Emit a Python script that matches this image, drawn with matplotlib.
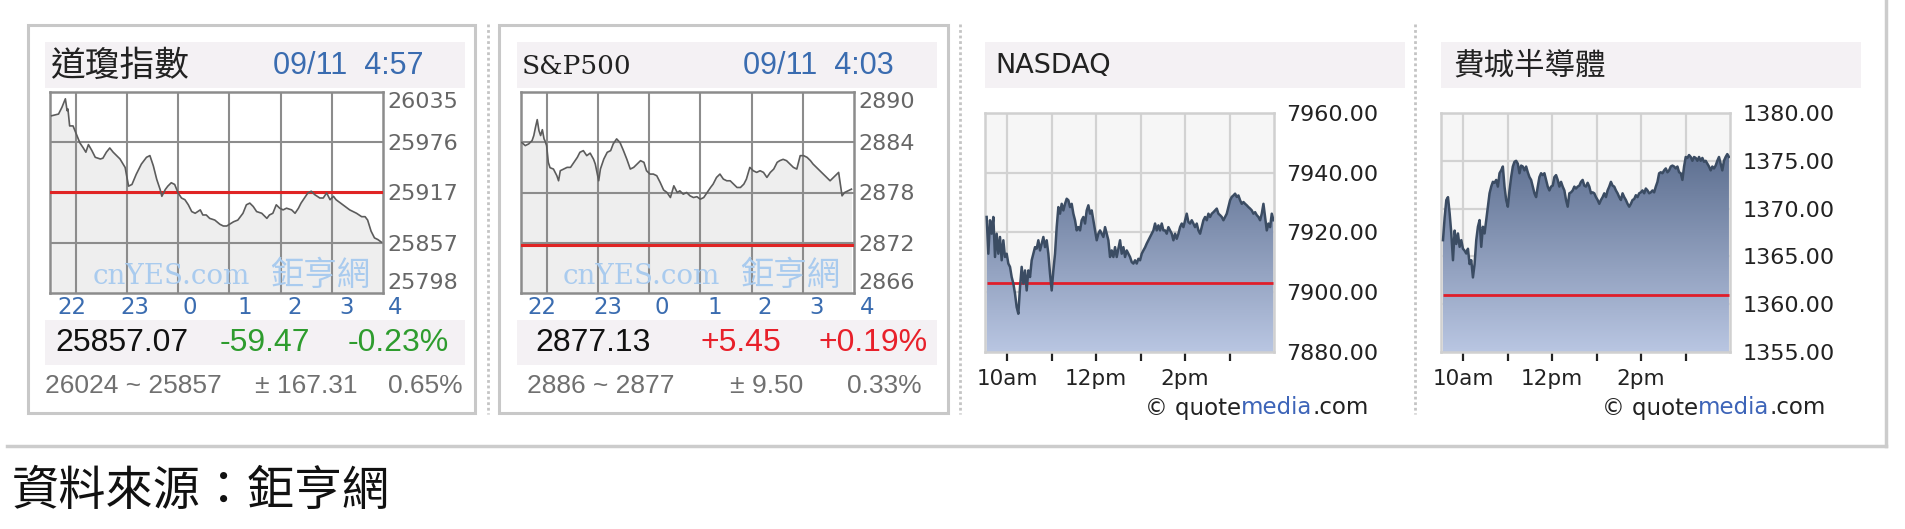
import matplotlib
matplotlib.use("Agg")
import matplotlib.pyplot as plt
import numpy as np
from matplotlib.patches import Rectangle
from matplotlib.colors import LinearSegmentedColormap

W, H = 1905, 529
CJK = ['Noto Sans CJK TC', 'DejaVu Sans']

# ---------------- data ----------------
dow_minutes = [2,10,14,18,20,21,23,27,31,35,39,42,45,49,53,59,62,66,70,74,78,82,88,92,96,101,107,113,117,121,
               125,129,131,135,138,142,146,150,154,158,162,166,170,176,179,183,187,193,199,203,207,215,220,226,230,234,238,242,248,254,
               257,261,265,269,273,277,283,287,291,294,298,302,306,310,316,320,324,328,332,335,343,351,359,365,369,372,376,380,384,388]
dow_values = [26007,26009,26017,26027,26013,26015,25995,25995,25985,25975,25969,25964,25973,25966,25958,25956,25957,25964,25969,25964,
              25960,25956,25946,25924,25926,25938,25950,25958,25960,25948,25932,25920,25912,25920,25924,25928,25926,25916,25910,25908,
              25902,25894,25892,25896,25890,25890,25886,25884,25879,25877,25877,25882,25884,25892,25902,25904,25900,25894,25892,25886,
              25890,25892,25902,25898,25896,25898,25896,25892,25898,25904,25910,25916,25918,25914,25910,25910,25916,25908,25912,25908,
              25902,25896,25892,25888,25888,25884,25871,25863,25861,25858]
dow_prev_close = 25916.54
dow_ylim = (25798, 26035)
dow_yticks = [25798, 25857.25, 25916.5, 25975.75, 26035]
dow_yticklabels = ['25798', '25857', '25917', '25976', '26035']

spx_minutes = [1,5,9,13,15,17,19,21,23,25,27,28,30,32,34,38,42,44,46,50,54,58,62,66,69,73,77,81,85,87,
               89,91,93,97,101,105,108,112,116,120,124,128,132,136,140,144,147,151,155,159,163,167,171,175,179,183,186,190,194,198,
               202,206,210,214,218,222,225,229,233,237,241,245,249,253,257,261,264,268,272,276,280,284,288,292,296,300,303,307,311,315,
               319,323,327,331,335,339,342,346,350,354,358,362,366,370,372,376,379,383,387]
spx_values = [2883.96,2883.6,2883.8,2884.2,2884.8,2885.8,2886.7,2885.4,2884.8,2885.5,
              2884.4,2884.2,2883.6,2881.6,2880.96,2880.8,2880.0,2879.4,2880.6,2880.8,
              2881.0,2881.0,2881.6,2882.2,2882.8,2883.0,2882.4,2882.7,2881.96,2881.4,
              2880.4,2879.4,2880.8,2882.0,2882.8,2883.0,2883.8,2884.4,2883.96,2883.0,
              2881.96,2880.8,2881.0,2881.4,2881.8,2881.6,2880.6,2880.2,2880.2,2880.0,
              2879.2,2878.3,2878.0,2877.4,2878.8,2878.0,2878.2,2877.8,2878.0,2877.6,
              2877.4,2877.5,2877.2,2877.4,2878.0,2878.6,2879.0,2879.8,2880.2,2879.6,
              2879.4,2879.4,2879.0,2878.6,2878.6,2879.0,2879.6,2881.0,2880.6,2880.4,
              2880.6,2880.4,2879.8,2880.4,2880.8,2881.6,2881.8,2881.96,2881.8,2881.4,
              2881.0,2880.8,2882.4,2882.4,2882.2,2881.8,2881.4,2881.0,2880.6,2880.2,
              2879.8,2879.4,2879.8,2880.2,2880.4,2877.6,2878.0,2878.2,2878.4]
spx_prev_close = 2871.68
spx_ylim = (2866, 2890)
spx_yticks = [2866, 2872, 2878, 2884, 2890]
spx_yticklabels = ['2866', '2872', '2878', '2884', '2890']

ndq_values = [7925.2,7912.9,7924.1,7919.6,7925.2,7911.8,7919.6,7912.9,7918.5,7910.7,
              7917.4,7911.8,7912.9,7909.6,7908.5,7905.1,7902.9,7899.5,7895.0,7892.8,
              7901.7,7908.5,7902.9,7907.3,7900.6,7907.3,7905.1,7910.7,7912.9,7915.1,
              7914.6,7917.4,7914.0,7916.3,7918.5,7915.1,7917.4,7912.9,7906.2,7900.6,
              7907.3,7912.9,7921.8,7928.5,7926.3,7929.6,7927.4,7929.6,7931.3,7930.8,
              7928.5,7929.6,7926.3,7924.1,7920.7,7921.8,7920.7,7924.1,7925.2,7923.0,
              7927.4,7929.1,7926.3,7927.4,7924.1,7920.7,7917.4,7919.6,7920.7,7919.6,
              7918.5,7921.8,7919.6,7917.4,7911.8,7914.0,7911.8,7915.1,7911.8,7914.6,
              7917.4,7912.9,7915.1,7911.8,7914.0,7912.9,7911.8,7910.1,7909.6,7910.7,
              7909.6,7911.2,7910.7,7912.9,7914.0,7915.0,7916.3,7917.4,7918.5,7919.6,
              7920.7,7923.0,7920.7,7922.4,7920.7,7923.0,7920.7,7920.7,7919.6,7921.8,
              7920.7,7919.6,7917.4,7919.6,7917.9,7919.6,7921.8,7923.0,7921.8,7924.1,
              7926.3,7923.5,7923.0,7924.1,7923.0,7921.8,7923.0,7920.7,7919.6,7921.8,
              7924.1,7925.2,7924.1,7926.3,7925.2,7926.3,7926.8,7927.4,7928.0,7926.3,
              7925.8,7925.2,7924.1,7925.2,7926.3,7928.5,7930.8,7931.9,7932.4,7933.0,
              7931.9,7932.4,7930.8,7929.6,7930.2,7929.6,7929.1,7928.5,7928.0,7927.4,
              7926.3,7926.8,7925.8,7925.2,7924.1,7926.3,7929.6,7925.2,7920.7,7923.0,
              7921.8,7926.3,7924.1]
ndq_first_last_minute = (2.25, 389.25)
ndq_prev_close = 7903.0
ndq_ylim = (7880, 7960)
ndq_yticks = [7880, 7900, 7920, 7940, 7960]
ndq_yticklabels = ['7880.00', '7900.00', '7920.00', '7940.00', '7960.00']

sox_values = [1366.7,1369.1,1370.9,1371.2,1369.5,1367.4,1364.6,1367.7,1366.3,1367.4,
              1366.0,1366.7,1365.8,1365.6,1365.3,1365.8,1364.2,1364.6,1362.8,1364.2,
              1366.7,1368.1,1368.8,1366.0,1368.1,1367.4,1368.8,1370.2,1371.6,1372.3,
              1372.8,1372.7,1373.0,1372.3,1373.7,1374.0,1374.4,1372.3,1370.9,1370.2,
              1371.9,1373.3,1374.4,1374.9,1375.0,1374.7,1373.7,1374.5,1374.4,1374.0,
              1374.4,1373.8,1373.3,1373.0,1372.3,1371.6,1371.2,1372.3,1373.3,1373.7,
              1373.5,1373.7,1373.0,1372.3,1371.9,1372.3,1372.4,1373.3,1373.5,1373.0,
              1372.3,1372.8,1372.3,1371.9,1370.9,1370.2,1371.6,1371.7,1371.9,1372.3,
              1372.1,1372.3,1372.4,1372.8,1373.0,1372.4,1372.3,1372.7,1372.3,1371.6,
              1371.7,1371.6,1371.2,1370.9,1370.5,1370.9,1371.2,1371.6,1371.2,1371.9,
              1372.3,1372.8,1372.4,1372.3,1371.9,1371.6,1371.2,1370.9,1371.6,1371.2,
              1370.9,1370.5,1370.2,1370.5,1370.9,1371.0,1371.4,1371.2,1371.6,1371.7,
              1371.9,1371.6,1372.1,1371.9,1371.6,1371.7,1371.9,1371.7,1372.3,1372.8,
              1373.7,1373.8,1373.7,1374.0,1374.2,1373.8,1374.0,1374.4,1374.5,1374.4,
              1374.2,1374.4,1373.8,1373.7,1373.0,1374.4,1375.4,1375.3,1375.6,1375.4,
              1375.0,1375.4,1375.3,1375.0,1375.4,1375.0,1375.3,1374.9,1375.0,1374.7,
              1374.4,1374.0,1374.4,1374.2,1374.5,1375.0,1375.4,1374.7,1374.0,1375.0,
              1375.4,1375.7,1375.4]
sox_first_last_minute = (2.7, 388.6)
sox_prev_close = 1361.0
sox_ylim = (1355, 1380)
sox_yticks = [1355, 1360, 1365, 1370, 1375, 1380]
sox_yticklabels = ['1355.00', '1360.00', '1365.00', '1370.00', '1375.00', '1380.00']

hour_grid_minutes = [30, 90, 150, 210, 270, 330]
us_tick_labels = ['10am', '', '12pm', '', '2pm', '']
tw_hour_labels = ['22', '23', '0', '1', '2', '3', '4']

# ---------------- figure ----------------
fig = plt.figure(figsize=(W / 100, H / 100), dpi=100)
fig.patch.set_facecolor('white')


def fax(x0, y0, x1, y1):
    return fig.add_axes([x0 / W, 1 - y1 / H, (x1 - x0) / W, (y1 - y0) / H])


def cnyes_plot(box, minutes, values, prev, ylim, yticks, ylabels):
    ax = fax(*box)
    ax.set_facecolor('white')
    ax.fill_between(minutes, values, ylim[0], color='#eeeeee', lw=0, zorder=1)
    for m in hour_grid_minutes:
        ax.axvline(m, color='#8c8c8c', lw=1.5, zorder=2)
    for v in yticks[1:-1]:
        ax.axhline(v, color='#8c8c8c', lw=1.5, zorder=2)
    ax.axhline(prev, color='#e02424', lw=2.2, zorder=3)
    ax.plot(minutes, values, color='#5c5c5c', lw=1.2, zorder=4)
    ax.set_xlim(0, 390)
    ax.set_ylim(*ylim)
    ax.set_xticks([])
    ax.set_yticks(yticks)
    ax.set_yticklabels(ylabels)
    ax.yaxis.tick_right()
    ax.tick_params(axis='y', length=0, pad=3, labelsize=16, labelcolor='#666666')
    tl = ax.get_yticklabels()
    tl[0].set_va('bottom')
    tl[-1].set_va('top')
    for s in ax.spines.values():
        s.set_color('#8c8c8c')
        s.set_linewidth(1.8)
    return ax


def qm_plot(box, values, first_last, prev, ylim, yticks, ylabels):
    ax = fax(*box)
    ax.set_facecolor('#f6f6f6')
    t = np.linspace(first_last[0], first_last[1], len(values))
    poly = ax.fill_between(t, values, ylim[0], facecolor='none', edgecolor='none')
    cmap = LinearSegmentedColormap.from_list('g', ['#b9c6e2', '#4b5e80'])
    grad = np.linspace(0, 1, 256).reshape(-1, 1)
    im = ax.imshow(grad, extent=[0, 390, ylim[0], ylim[1]], origin='lower', aspect='auto',
                   cmap=cmap, zorder=1, interpolation='bilinear')
    im.set_clip_path(poly.get_paths()[0], transform=ax.transData)
    ax.hlines(prev, t[0], t[-1], color='#e01e2a', lw=2.0, zorder=3)
    ax.plot(t, values, color='#3b4c63', lw=1.8, zorder=4)
    ax.set_xlim(0, 390)
    ax.set_ylim(*ylim)
    ax.set_xticks(hour_grid_minutes)
    ax.set_xticklabels(us_tick_labels)
    ax.set_yticks(yticks)
    ax.set_yticklabels(ylabels)
    ax.yaxis.tick_right()
    ax.grid(True, color='#d2d2d2', lw=1.6)
    ax.set_axisbelow(True)
    ax.tick_params(axis='y', length=0, pad=9, labelsize=16, labelcolor='#222222')
    ax.tick_params(axis='x', direction='out', length=6.5, width=1.6, color='#222222',
                   pad=6, labelsize=15.5, labelcolor='#222222')
    for s in ax.spines.values():
        s.set_color('#d0d0d0')
        s.set_linewidth(1.8)
    return ax


dow_ax = cnyes_plot((50, 92, 383, 293), dow_minutes, dow_values, dow_prev_close,
                    dow_ylim, dow_yticks, dow_yticklabels)
spx_ax = cnyes_plot((521, 92, 854, 293), spx_minutes, spx_values, spx_prev_close,
                    spx_ylim, spx_yticks, spx_yticklabels)
ndq_ax = qm_plot((985, 113, 1274, 352), ndq_values, ndq_first_last_minute, ndq_prev_close,
                 ndq_ylim, ndq_yticks, ndq_yticklabels)
sox_ax = qm_plot((1441, 113, 1730, 352), sox_values, sox_first_last_minute, sox_prev_close,
                 sox_ylim, sox_yticks, sox_yticklabels)

# ---------------- overlay ----------------
bg = fig.add_axes([0, 0, 1, 1], zorder=10)
bg.set_xlim(0, W)
bg.set_ylim(H, 0)
bg.axis('off')
bg.patch.set_alpha(0)

# boxes and bands
for x0, x1 in [(28, 475), (499, 948)]:
    bg.add_patch(Rectangle((x0, 25), x1 - x0, 388, fill=False, edgecolor='#c8c8c8', lw=2.2))
for x0, x1 in [(45, 465), (517, 937), (985, 1405), (1441, 1861)]:
    bg.add_patch(Rectangle((x0, 42), x1 - x0, 46, facecolor='#f4f1f4', edgecolor='none'))
for x0, x1 in [(45, 465), (517, 937)]:
    bg.add_patch(Rectangle((x0, 320), x1 - x0, 45, facecolor='#f4f1f4', edgecolor='none'))
for x in [488, 960, 1415]:
    bg.plot([x, x], [24, 414], color='#c4c4c4', lw=2, ls=(0, (1, 1)))
bg.plot([1886, 1886], [0, 446], color='#cccccc', lw=2.5)
bg.plot([7, 1886], [446, 446], color='#cccccc', lw=2.5)

# titles
bg.text(50, 66, '道瓊指數', family=CJK, fontsize=25, color='#222222', va='center', ha='left')
bg.text(273, 66, '09/11  4:57', family=['Liberation Sans'], fontsize=22, color='#3a6cb0', va='center', ha='left')
bg.text(522, 66, 'S&P500', family=['DejaVu Serif'], fontsize=19, color='#222222', va='center', ha='left')
bg.text(743, 66, '09/11  4:03', family=['Liberation Sans'], fontsize=22, color='#3a6cb0', va='center', ha='left')
bg.text(995, 66, 'NASDAQ', family=['DejaVu Sans'], fontsize=19.5, color='#222222', va='center', ha='left')
bg.text(1453, 66, '費城半導體', family=CJK, fontsize=22, color='#222222', va='center', ha='left')

# cnyes x hour labels
for lab, x in zip(tw_hour_labels, [72, 135, 190, 245, 295, 347, 395]):
    bg.text(x, 308, lab, fontsize=16.5, color='#3a6cb0', ha='center', va='center', family=['DejaVu Sans'])
for lab, x in zip(tw_hour_labels, [542, 608, 662, 715, 765, 817, 867]):
    bg.text(x, 308, lab, fontsize=16.5, color='#3a6cb0', ha='center', va='center', family=['DejaVu Sans'])

# watermarks
for x0, x1 in [(93, 270), (563, 740)]:
    bg.text(x0, 277, 'cnYES.com', family=['DejaVu Serif'], fontsize=20, color='#a9cbee', va='center', ha='left')
    bg.text(x1, 275, '鉅亨網', family=CJK, fontsize=24, color='#a9cbee', va='center', ha='left')

# value rows
vf = ['Liberation Sans']
bg.text(55, 343, '25857.07', family=vf, fontsize=23, color='#111111', va='center')
bg.text(220, 343, '-59.47', family=vf, fontsize=23, color='#2e9c2e', va='center')
bg.text(348, 343, '-0.23%', family=vf, fontsize=23, color='#2e9c2e', va='center')
bg.text(535, 343, '2877.13', family=vf, fontsize=23, color='#111111', va='center')
bg.text(700, 343, '+5.45', family=vf, fontsize=23, color='#e8202a', va='center')
bg.text(818, 343, '+0.19%', family=vf, fontsize=23, color='#e8202a', va='center')

rf = ['Liberation Sans']
bg.text(45, 386, '26024 ~ 25857', family=rf, fontsize=19, color='#707070', va='center')
bg.text(255, 386, '± 167.31', family=rf, fontsize=19, color='#707070', va='center')
bg.text(463, 386, '0.65%', family=rf, fontsize=19, color='#707070', va='center', ha='right')
bg.text(527, 386, '2886 ~ 2877', family=rf, fontsize=19, color='#707070', va='center')
bg.text(730, 386, '± 9.50', family=rf, fontsize=19, color='#707070', va='center')
bg.text(922, 386, '0.33%', family=rf, fontsize=19, color='#707070', va='center', ha='right')

# quotemedia credits
fig.canvas.draw()
renderer = fig.canvas.get_renderer()
inv = bg.transData.inverted()
for x0 in [1145, 1602]:
    x = x0
    for part, col in [('© quote', '#222222'), ('media', '#3d64b8'), ('.com', '#222222')]:
        t = bg.text(x, 408, part, family=['DejaVu Sans'], fontsize=16.5, color=col, va='center', ha='left')
        bb = t.get_window_extent(renderer)
        x = inv.transform((bb.x1, bb.y0))[0]

# source
bg.text(12, 492, '資料來源：鉅亨網', family=CJK, fontsize=34, color='#111111', va='center', ha='left')

fig.savefig('out.png', dpi=100, facecolor='white')
